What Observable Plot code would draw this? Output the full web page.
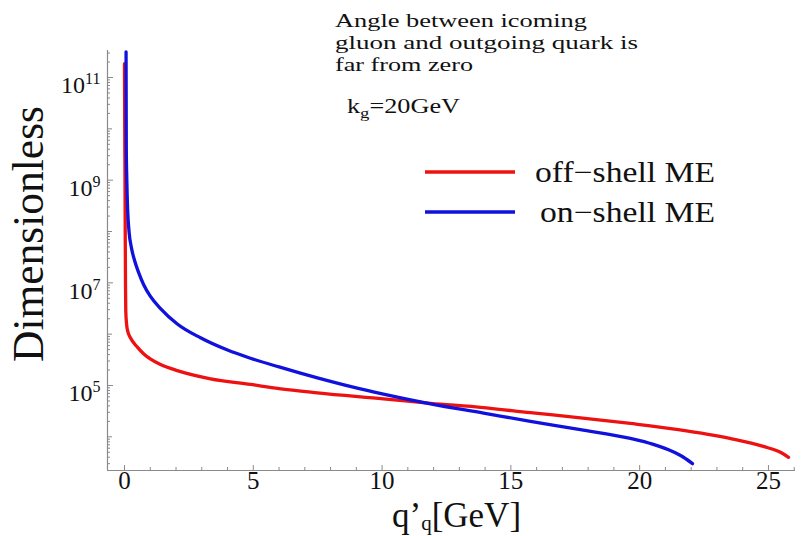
<!DOCTYPE html>
<html>
<head>
<meta charset="utf-8">
<script src="https://cdn.jsdelivr.net/npm/d3@7"></script>
<script src="https://cdn.jsdelivr.net/npm/@observablehq/plot@0.6"></script>
<style>
  html, body { margin: 0; padding: 0; background: #fff; }
  #chart { width: 802px; height: 536px; }
</style>
</head>
<body>
<div id="chart"></div>
<script>
// ---- data ----
const offShellQ = [0.0, 0.01, 0.02, 0.03, 0.04, 0.05, 0.08, 0.12, 0.23, 0.5, 0.74, 1.0, 1.4, 2.05, 3.34, 4.89, 6.0, 7.49, 10.05, 11.88, 13.94, 15.76, 17.7, 19.64, 21.5, 23.5, 24.8, 25.5, 25.78];
const offShellV = [1.86e11, 1e10, 1e9, 6.3e7, 7.9e6, 2.8e6, 1.58e6, 1.17e6, 8.5e5, 5.6e5, 4.17e5, 3.3e5, 2.57e5, 1.95e5, 1.35e5, 1.05e5, 8.7e4, 7.2e4, 5.5e4, 4.5e4, 3.7e4, 2.95e4, 2.35e4, 1.82e4, 1.38e4, 9.3e3, 6.5e3, 4.9e3, 4.0e3];

const onShellQ = [0.06, 0.065, 0.07, 0.09, 0.12, 0.18, 0.27, 0.4, 0.55, 0.74, 1.0, 1.4, 2.05, 2.95, 4.0, 4.89, 6.0, 6.83, 7.49, 8.8, 10.05, 11.88, 13.94, 15.76, 17.7, 19.64, 20.5, 21.3, 21.7, 22.05];
const onShellV = [3.16e11, 3.16e10, 3.98e9, 1.0e9, 2.82e8, 9.5e7, 4.8e7, 2.63e7, 1.58e7, 9.3e6, 5.5e6, 3.16e6, 1.58e6, 8.5e5, 4.9e5, 3.4e5, 2.3e5, 1.74e5, 1.41e5, 9.5e4, 6.8e4, 4.4e4, 2.9e4, 2.0e4, 1.38e4, 9.3e3, 7.2e3, 5.1e3, 4.0e3, 3.0e3];

const seriesNames = ["off\u2212shell ME", "on\u2212shell ME"];
const seriesColors = ["#ee1111", "#1111dd"];

const xLabelTicks = [0, 5, 10, 15, 20, 25];
const xMinorTicks = [1, 2, 3, 4, 6, 7, 8, 9, 11, 12, 13, 14, 16, 17, 18, 19, 21, 22, 23, 24, 26];
const yLabelTicks = [1e5, 1e7, 1e9, 1e11];
const yLabelExponents = ["5", "7", "9", "11"];
const yDecadeTicks = [1e4, 1e6, 1e8, 1e10];
const yMinorMantissas = [2, 3, 4, 5, 6, 7, 8, 9];
const yMinorDecades = [1e3, 1e4, 1e5, 1e6, 1e7, 1e8, 1e9, 1e10, 1e11];

const annotationLines = ["Angle between icoming", "gluon and outgoing quark is", "far from zero"];
const kgLabel = ["k", "g", "=20GeV"];
const xTitle = ["q\u2019", "q", "[GeV]"];
const yTitle = "Dimensionless";

const xDomain = [-0.66, 26.05];
const yDomain = [2208, 3.36e11];

// ---- build tables ----
const offRows = offShellQ.map((q, i) => ({q, v: offShellV[i]}));
const onRows = onShellQ.map((q, i) => ({q, v: onShellV[i]}));
const yMinorTicks = yMinorDecades.flatMap(d => yMinorMantissas.map(m => m * d))
  .filter(v => v >= yDomain[0] && v <= yDomain[1]);

const W = 802, H = 536;
const mL = 107, mR = 7, mT = 50, mB = 66;
const innerW = W - mL - mR, innerH = H - mT - mB;
const serif = "'Liberation Serif', 'Times New Roman', serif";
const axisGray = "#8a8a8a";

const chart = Plot.plot({
  width: W, height: H,
  marginLeft: mL, marginRight: mR, marginTop: mT, marginBottom: mB,
  style: {fontFamily: serif, background: "#fff", color: "#111"},
  x: {domain: xDomain},
  y: {type: "log", domain: yDomain},
  marks: [
    Plot.ruleX([xDomain[0]], {stroke: axisGray, strokeWidth: 1.2}),
    Plot.ruleY([yDomain[0]], {stroke: axisGray, strokeWidth: 1.2}),
    Plot.tickX(xMinorTicks, {x: d => d, insetTop: innerH - 3, stroke: axisGray}),
    Plot.tickX(xLabelTicks, {x: d => d, insetTop: innerH - 5, stroke: axisGray}),
    Plot.tickY(yMinorTicks, {y: d => d, insetRight: innerW - 3, stroke: axisGray}),
    Plot.tickY(yDecadeTicks, {y: d => d, insetRight: innerW - 5, stroke: axisGray}),
    Plot.tickY(yLabelTicks, {y: d => d, insetRight: innerW - 6, stroke: axisGray}),
    Plot.axisX({ticks: xLabelTicks, tickSize: 0, tickPadding: 1, fontSize: 25, label: null, tickFormat: d => String(d)}),
    Plot.axisY({ticks: yLabelTicks, tickSize: 0, tickPadding: 7, fontSize: 24, label: null, dy: 8,
      tickFormat: d => "10^" + yLabelExponents[yLabelTicks.indexOf(d)]}),
    Plot.line(offRows, {x: "q", y: "v", stroke: seriesColors[0], strokeWidth: 3.3, curve: "monotone-x"}),
    Plot.line(onRows, {x: "q", y: "v", stroke: seriesColors[1], strokeWidth: 3.3, curve: "monotone-x"})
  ]
});

document.getElementById("chart").appendChild(chart);
const svg = d3.select(chart);

// superscripts for y tick labels
svg.selectAll('g[aria-label="y-axis tick label"] text').each(function() {
  const t = d3.select(this);
  const s = t.text();
  if (!s.includes("^")) return;
  const [base, exp] = s.split("^");
  t.text(null);
  t.append("tspan").text(base);
  t.append("tspan").attr("font-size", 16).attr("dy", "-0.55em").text(exp);
});

const addText = (x, y, size, anchor) => svg.append("text")
  .attr("x", x).attr("y", y)
  .attr("text-anchor", anchor)
  .attr("font-family", serif).attr("font-size", size).attr("fill", "#111");

// y title
svg.append("text")
  .attr("transform", "translate(43,234) rotate(-90)")
  .attr("text-anchor", "middle")
  .attr("font-family", serif).attr("font-size", 44).attr("fill", "#111")
  .attr("textLength", 256).attr("lengthAdjust", "spacingAndGlyphs")
  .text(yTitle);

// x title
const xt = addText(392, 527, 35, "start");
xt.append("tspan").text(xTitle[0]);
xt.append("tspan").attr("font-size", 21).attr("dy", 3).text(xTitle[1]);
xt.append("tspan").attr("dy", -3).text(xTitle[2]);

// annotation
const annWidths = [252, 303, 138];
annotationLines.forEach((line, i) => {
  addText(335, 27 + i * 22, 19, "start")
    .attr("textLength", annWidths[i]).attr("lengthAdjust", "spacingAndGlyphs")
    .text(line);
});
const kt = addText(347, 113, 21, "start")
  .attr("textLength", 113).attr("lengthAdjust", "spacingAndGlyphs");
kt.append("tspan").text(kgLabel[0]);
kt.append("tspan").attr("font-size", 15).attr("dy", 5).text(kgLabel[1]);
kt.append("tspan").attr("dy", -5).text(kgLabel[2]);

// legend
const legendWidths = [180, 175];
seriesNames.forEach((name, i) => {
  const y = 172 + i * 40;
  svg.append("line")
    .attr("x1", 425).attr("x2", 515).attr("y1", y).attr("y2", y)
    .attr("stroke", seriesColors[i]).attr("stroke-width", 3.5);
  addText(i === 0 ? 535 : 540, y + 10, 29, "start")
    .attr("textLength", legendWidths[i]).attr("lengthAdjust", "spacingAndGlyphs")
    .text(name);
});
</script>
</body>
</html>
